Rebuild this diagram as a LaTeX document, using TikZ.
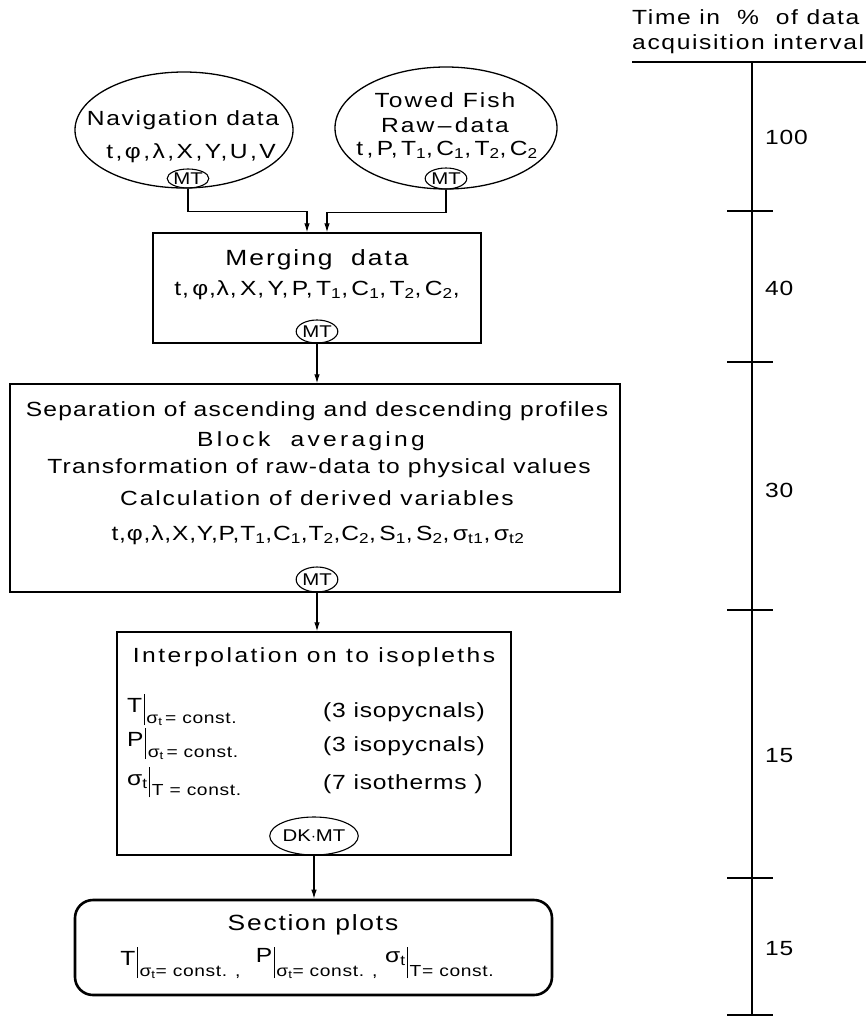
\documentclass[tikz,border=0pt]{standalone}
\usepackage{fontspec}
\setmainfont{Liberation Sans}[FakeStretch=1.2,LetterSpace=4]
\usetikzlibrary{arrows.meta,shapes.geometric}
\newcommand{\sig}{σ\textsubscript{t}}
\newcommand{\evat}[2]{#1\kern1.5pt\rule[-0.6em]{1.2pt}{1.5em}\kern1.5pt\raisebox{-0.5em}{\fontsize{16}{16}\selectfont #2}}
\newcommand{\wide}[1]{\addfontfeature{LetterSpace=#1}}
\begin{document}
\begin{tikzpicture}[x=1pt,y=-1pt,
  txt/.style={inner sep=0pt, font=\fontsize{20.5}{24}\selectfont},
  bigtxt/.style={inner sep=0pt, font=\fontsize{22}{26}\selectfont},
  bigell/.style={draw, line width=1.3pt, ellipse, inner sep=0pt},
  tag/.style={draw, line width=1.1pt, ellipse, inner sep=0pt, font=\fontsize{17}{17}\selectfont\addfontfeature{LetterSpace=0}},
  box/.style={draw, line width=1.4pt, inner sep=0pt},
  arr/.style={line width=1.1pt, -{Latex[length=9pt,width=5.5pt]}},
  scl/.style={line width=1.1pt}
]
\useasboundingbox (0,0) rectangle (866,1020);
\fill[white] (0,0) rectangle (866,1020);

% input ellipses
\node[bigell, minimum width=218pt, minimum height=116pt] (nav) at (184,130) {};
\node[txt] (navt1) at (183,120) {\wide{8}Navigation data};
\node[txt] (navt2) at (191,153) {\wide{12}t,φ,λ,X,Y,U,V};
\node[tag, minimum width=37pt, minimum height=19pt] (navmt) at (188,178.5) {MT};

\node[bigell, minimum width=222pt, minimum height=122pt] (fish) at (446,128) {};
\node[txt] (fisht1) at (445,100) {\wide{10}Towed Fish};
\node[txt] (fisht2) at (445,125) {\wide{10}Raw\,--\,data};
\node[txt] (fisht3) at (447,150) {t\,,\,P,\,T\textsubscript{1},\,C\textsubscript{1},\,T\textsubscript{2},\,C\textsubscript{2}};
\node[tag, minimum width=38pt, minimum height=21pt] (fishmt) at (446,178.5) {MT};

% merging
\node[box, minimum width=328pt, minimum height=110pt] (merge) at (317,288) {};
\node[bigtxt] (mt1) at (317,260) {\wide{9}Merging\ \ data};
\node[txt] (mt2) at (317,290) {t,\,φ,λ,\,X,\,Y,\,P,\,T\textsubscript{1},\,C\textsubscript{1},\,T\textsubscript{2},\,C\textsubscript{2},};
\node[tag, minimum width=40pt, minimum height=23pt] (mergemt) at (317,331.5) {MT};

% processing
\node[box, minimum width=610pt, minimum height=208pt] (proc) at (315,488) {};
\node[txt] (p1) at (317,411) {\wide{6}Separation of ascending and descending profiles};
\node[txt] (p2) at (311,441) {\wide{16}Block\ \ averaging};
\node[txt] (p3) at (319,468) {\wide{6}Transformation of raw-data to physical values};
\node[txt] (p4) at (317,498) {\wide{9}Calculation of derived variables};
\node[txt] (p5) at (318,535) {t,φ,λ,X,Y,P,T\textsubscript{1},C\textsubscript{1},T\textsubscript{2},C\textsubscript{2},\,S\textsubscript{1},\,S\textsubscript{2},\,σ\textsubscript{t1},\,σ\textsubscript{t2}};
\node[tag, minimum width=40pt, minimum height=25pt] (procmt) at (317,579.5) {MT};

% interpolation
\node[box, minimum width=394pt, minimum height=223pt] (interp) at (314,743.5) {};
\node[txt] (i1) at (314,657) {\wide{12}Interpolation on to isopleths};
\node[txt, anchor=west] (i2) at (127,710) {\evat{T}{\sig\,= const.}};
\node[txt, anchor=west] (i3) at (127,744) {\evat{P}{\sig\,= const.}};
\node[txt, anchor=west] (i4) at (127,782) {\evat{\sig}{T = const.}};
\node[txt, anchor=west] (i2b) at (323,712) {(3 isopycnals)};
\node[txt, anchor=west] (i3b) at (323,746) {(3 isopycnals)};
\node[txt, anchor=west] (i4b) at (323,784) {(7 isotherms )};
\node[tag, minimum width=77pt, minimum height=38pt] (dkmt) at (314,836) {DK$\cdot$MT};

% section plots
\node[draw, line width=2.6pt, rounded corners=18pt, minimum width=477pt, minimum height=95pt] (sect) at (313.5,947.5) {};
\node[bigtxt] (s1) at (313,925) {\wide{8}Section\ plots};
\node[txt] (s2) at (307,963) {\evat{T}{\sig= const. ,}\ \ \evat{\raisebox{3pt}{P}}{\sig= const. ,}\ \evat{\raisebox{3pt}{\sig}}{T= const.}};

% connectors
\draw[arr] (navmt.south) -- ++(0,23) -| ([xshift=-10pt]merge.north);
\draw[arr] (fishmt.south) -- ++(0,23) -| ([xshift=10pt]merge.north);
\draw[arr] (mergemt.south) -- (mergemt.south |- proc.north);
\draw[arr] (procmt.south) -- (procmt.south |- interp.north);
\draw[arr] (dkmt.south) -- (dkmt.south |- sect.north);

% time scale
\node[txt, anchor=west] (h1) at (632,17) {\wide{8}Time in\ \ \%\ \ of data};
\node[txt, anchor=west] (h2) at (632,44) {\wide{8}acquisition interval};
\coordinate (ha) at (632,62);
\coordinate (hb) at (866,62);
\draw[scl] (ha) -- (hb);
\coordinate (vt) at (752,62);
\coordinate (vb) at (752,1015);
\draw[line width=1.6pt] (vt) -- (vb);
\foreach \yy in {211,362,610,878,1015} {\draw[scl] (727,\yy) -- (773,\yy);}
\node[txt, anchor=west] (l1) at (765,137) {100};
\node[txt, anchor=west] (l2) at (765,288) {40};
\node[txt, anchor=west] (l3) at (765,490) {30};
\node[txt, anchor=west] (l4) at (765,756) {15};
\node[txt, anchor=west] (l5) at (765,949) {15};
\end{tikzpicture}
\end{document}
